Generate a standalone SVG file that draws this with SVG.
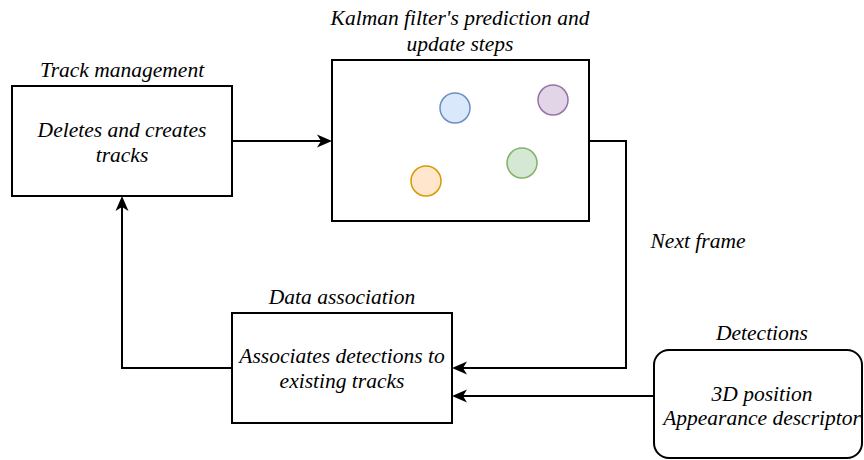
<svg xmlns="http://www.w3.org/2000/svg" width="864" height="460" viewBox="0 0 864 460">
<rect width="864" height="460" fill="#fff"/>
<g id="connectors">
<g fill="none" stroke="#000" stroke-width="2">
<path d="M232,141 H322"/>
<path d="M589,141 H626 V368 H462"/>
<path d="M654,396 H462"/>
<path d="M232,368 H122 V206"/>
</g>
<g fill="#000" stroke="none">
<polygon points="332,141 317,134.5 321,141 317,147.5"/>
<polygon points="452,368 467,361.5 463,368 467,374.5"/>
<polygon points="452,396 467,389.5 463,396 467,402.5"/>
<polygon points="122,196 115.5,211 122,207 128.5,211"/>
</g>
</g>
<g id="track-management">
<rect x="12" y="86" width="220" height="110" fill="#fff" stroke="#000" stroke-width="2"/>
<text x="122" y="77" text-anchor="middle" font-family="Liberation Serif" font-style="italic" font-size="21.5">Track management</text>
<text x="122" y="137" text-anchor="middle" font-family="Liberation Serif" font-style="italic" font-size="21.5">Deletes and creates</text>
<text x="122" y="162" text-anchor="middle" font-family="Liberation Serif" font-style="italic" font-size="21.5">tracks</text>
</g>
<g id="kalman">
<rect x="332" y="60" width="257" height="161" fill="#fff" stroke="#000" stroke-width="2"/>
<text x="460" y="25" text-anchor="middle" font-family="Liberation Serif" font-style="italic" font-size="21.5">Kalman filter's prediction and</text>
<text x="460" y="51" text-anchor="middle" font-family="Liberation Serif" font-style="italic" font-size="21.5">update steps</text>
<circle cx="455" cy="108" r="15" fill="#dae8fc" stroke="#6c8ebf" stroke-width="1.5"/>
<circle cx="553" cy="100" r="15" fill="#e1d5e7" stroke="#9673a6" stroke-width="1.5"/>
<circle cx="522" cy="163" r="15" fill="#d5e8d4" stroke="#82b366" stroke-width="1.5"/>
<circle cx="426" cy="181" r="15" fill="#ffe6cc" stroke="#d79b00" stroke-width="1.5"/>
</g>
<g id="next-frame">
<text x="698" y="248" text-anchor="middle" font-family="Liberation Serif" font-style="italic" font-size="21.5">Next frame</text>
</g>
<g id="data-association">
<rect x="232" y="313" width="220" height="110" fill="#fff" stroke="#000" stroke-width="2"/>
<text x="342" y="304" text-anchor="middle" font-family="Liberation Serif" font-style="italic" font-size="21.5">Data association</text>
<text x="342" y="363" text-anchor="middle" font-family="Liberation Serif" font-style="italic" font-size="21.5">Associates detections to</text>
<text x="342" y="388" text-anchor="middle" font-family="Liberation Serif" font-style="italic" font-size="21.5">existing tracks</text>
</g>
<g id="detections">
<rect x="654" y="350" width="208" height="108" rx="15" ry="15" fill="#fff" stroke="#000" stroke-width="2"/>
<text x="762" y="340" text-anchor="middle" font-family="Liberation Serif" font-style="italic" font-size="21.5">Detections</text>
<text x="762" y="401" text-anchor="middle" font-family="Liberation Serif" font-style="italic" font-size="21.5">3D position</text>
<text x="762" y="425" text-anchor="middle" font-family="Liberation Serif" font-style="italic" font-size="21.5">Appearance descriptor</text>
</g>
</svg>
